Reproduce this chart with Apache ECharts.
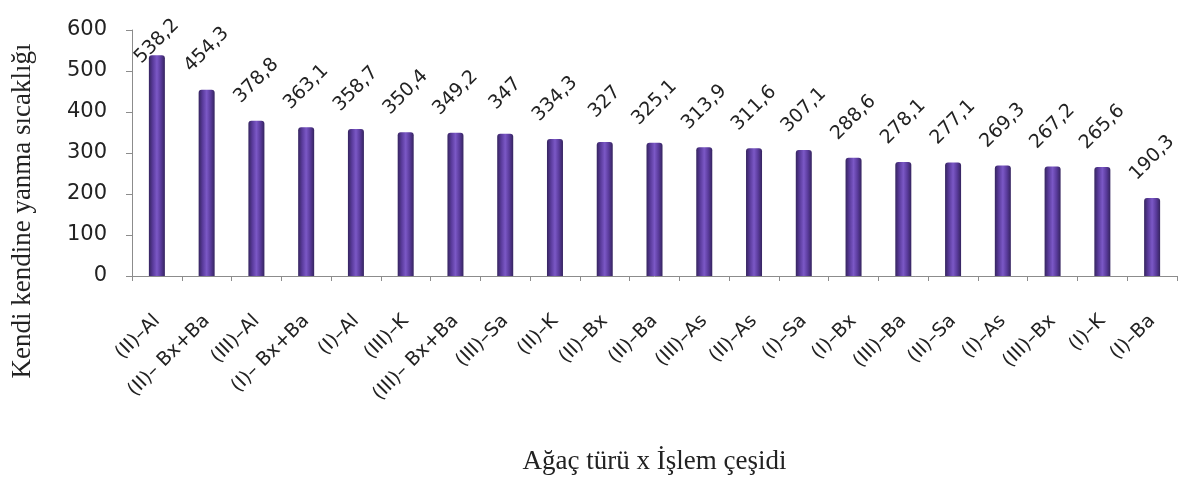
<!DOCTYPE html>
<html>
<head>
    <meta charset="utf-8">
    <title>ECharts</title>
    <script src="https://cdn.jsdelivr.net/npm/echarts@6/dist/echarts.min.js"></script>
</head>
<body style="margin:0;background:#fff;">
    <div id="main" style="width: 1179px;height:479px;"></div>
    <script type="text/javascript">
// kategoriler (agac turu x islem)
var categories = ['(II)–Al', '(II)– Bx+Ba', '(III)–Al', '(I)– Bx+Ba', '(I)–Al', '(III)–K',
    '(III)– Bx+Ba', '(III)–Sa', '(II)–K', '(II)–Bx', '(II)–Ba', '(III)–As', '(II)–As',
    '(I)–Sa', '(I)–Bx', '(III)–Ba', '(II)–Sa', '(I)–As', '(III)–Bx', '(I)–K', '(I)–Ba'];
var values = [538.2, 454.3, 378.8, 363.1, 358.7, 350.4, 349.2, 347, 334.3, 327, 325.1,
    313.9, 311.6, 307.1, 288.6, 278.1, 277.1, 269.3, 267.2, 265.6, 190.3];
var yTicks = [0, 100, 200, 300, 400, 500, 600];

var chart = echarts.init(document.getElementById('main'));

var barColor = new echarts.graphic.LinearGradient(0, 0, 1, 0, [
    {offset: 0, color: '#35245f'},
    {offset: 0.25, color: '#5a3b9c'},
    {offset: 0.5, color: '#7b58c6'},
    {offset: 0.75, color: '#5a3b9c'},
    {offset: 1, color: '#35245f'}
]);

var barData = values.map(function (v, i) {
    var item = {value: v};
    // ilk etiket grafik alanina sigsin diye asagi itiliyor
    if (i === 0) {
        item.label = {distance: 14};
    }
    return item;
});

chart.setOption({
    backgroundColor: '#ffffff',
    animation: false,
    grid: {
        left: 132,
        right: 2,
        top: 30,
        bottom: 203,
        outerBoundsMode: 'none'
    },
    // y ekseni basligi (grafik alaninin ortasinda degil, biraz asagida)
    graphic: [{
        type: 'text',
        x: 23,
        y: 211,
        rotation: Math.PI / 2,
        style: {
            text: 'Kendi kendine yanma sıcaklığı',
            font: '27px "Liberation Serif"',
            fill: '#222',
            textAlign: 'center',
            textVerticalAlign: 'middle'
        }
    }],
    xAxis: {
        type: 'category',
        data: categories,
        name: 'Ağaç türü x İşlem çeşidi',
        nameLocation: 'middle',
        nameGap: 172,
        nameTextStyle: {
            fontFamily: 'Liberation Serif',
            fontSize: 27,
            color: '#222'
        },
        axisLine: {lineStyle: {color: '#8c8c8c'}},
        axisTick: {show: true, length: 5, lineStyle: {color: '#8c8c8c'}},
        axisLabel: {
            rotate: 45,
            interval: 0,
            margin: 42,
            fontFamily: 'DejaVu Sans',
            fontSize: 19,
            color: '#222'
        }
    },
    yAxis: {
        type: 'value',
        min: yTicks[0],
        max: yTicks[yTicks.length - 1],
        interval: 100,
        splitLine: {show: false},
        axisLine: {show: true, lineStyle: {color: '#8c8c8c'}},
        axisTick: {show: true, inside: false, length: 6, lineStyle: {color: '#8c8c8c'}},
        axisLabel: {
            margin: 25,
            fontFamily: 'DejaVu Sans',
            fontSize: 21,
            color: '#222'
        }
    },
    series: [{
        type: 'bar',
        data: barData,
        barWidth: 16,
        itemStyle: {
            color: barColor,
            borderRadius: [3, 3, 0, 0]
        },
        label: {
            show: true,
            position: 'top',
            rotate: 45,
            align: 'center',
            verticalAlign: 'middle',
            distance: 40,
            fontFamily: 'DejaVu Sans',
            fontSize: 19,
            color: '#222',
            formatter: function (p) {
                return String(p.value).replace('.', ',');
            }
        }
    }]
});
    </script>
</body>
</html>
